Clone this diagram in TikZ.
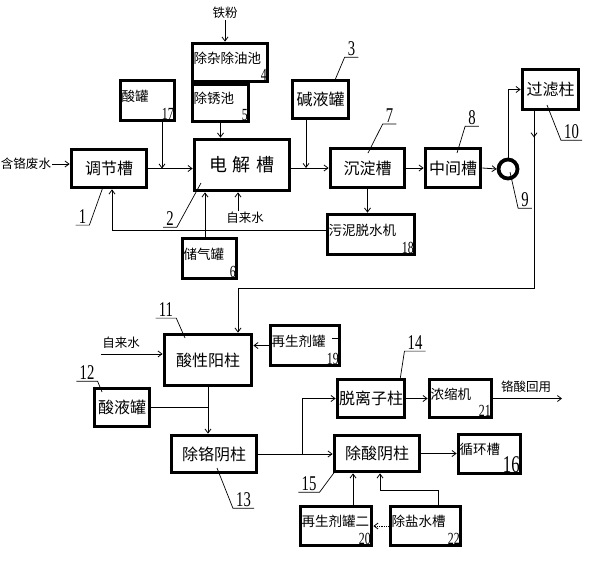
\documentclass[tikz,border=0pt]{standalone}
\usepackage{fontspec}
\setmainfont{Noto Sans CJK SC}
\newfontfamily\numfont{Liberation Serif}[FakeStretch=0.7]
\usetikzlibrary{arrows.meta}

\begin{document}
\begin{tikzpicture}[x=1pt,y=-1pt,
	box/.style={draw, line width=3.8pt, inner sep=1pt, font=\fontsize{16}{16}\selectfont},
	sbox/.style={box, align=left, text depth=10pt, font=\fontsize{13.5}{14}\selectfont},
	no/.style={anchor=south east, inner sep=1pt, xshift=-1.5pt, yshift=1.5pt, font=\numfont\fontsize{17}{17}\selectfont},
	tag/.style={inner xsep=3pt, inner ysep=1pt, font=\numfont\fontsize{21}{21}\selectfont},
	word/.style={inner sep=1pt, font=\fontsize{12.5}{13}\selectfont},
	arr/.style={line width=0.8pt, -{Straight Barb[length=4pt,width=6pt]}},
	lead/.style={line width=0.7pt}]
	\useasboundingbox (0,0) rectangle (593,560);

	% upper line
	\node[word] (tiefen) at (225,13) {铁粉};
	\node[word] (feishui) at (26,164) {含铬废水};
	\node[box, minimum width=75, minimum height=38] (tiaojie) at (109,168.5) {调节槽};
	\node[box, font=\fontsize{18}{18}\selectfont, minimum width=95, minimum height=51] (dianjie) at (242,165) {电\kern6pt 解\kern6pt 槽};
	\node[sbox, text width=52pt, minimum height=40, label={[no]south east:17}] (suanguan) at (147.5,100.5) {酸罐};
	\node[sbox, text width=73pt, minimum height=38, label={[no]south east:4}] (chuza) at (230,62.5) {除杂除油池};
	\node[sbox, text width=54pt, minimum height=37, label={[no]south east:5}] (chuxiu) at (220.5,103) {除锈池};
	\node[box, minimum width=56, minimum height=38] (jianye) at (320.5,99.5) {碱液罐};
	\node[box, minimum width=74, minimum height=39] (chendian) at (367.5,168) {沉淀槽};
	\node[box, minimum width=55, minimum height=39] (zhongjian) at (453,168) {中间槽};
	\node[draw, circle, line width=3.8pt, minimum size=19, inner sep=0] (beng) at (508,169) {};
	\node[box, minimum width=56, minimum height=40] (guolv) at (550.5,89.5) {过滤柱};
	\node[sbox, text width=85pt, minimum height=40, label={[no]south east:18}] (wuni) at (371,234.5) {污泥脱水机};
	\node[sbox, text width=52pt, minimum height=40, label={[no]south east:6}] (chuqi) at (209.5,258.5) {储气罐};
	\node[word] (zilaishui) at (245,218) {自来水};

	\draw[arr] (feishui.east) -- (feishui.east -| tiaojie.west);
	\draw[arr] (tiaojie.east) -- (tiaojie.east -| dianjie.west);
	\coordinate (sg) at ([xshift=14.5pt]suanguan.south);
	\draw[arr] (sg) -- (sg |- tiaojie.east);
	\draw[arr] (tiefen) -- (tiefen |- chuza.north);
	\draw[arr] (chuxiu.south) -- (chuxiu.south |- dianjie.north);
	\coordinate (jy) at ([xshift=-14.5pt]jianye.south);
	\draw[arr] (jy) -- (jy |- chendian.west);
	\draw[arr] (dianjie.east |- chendian.west) -- (chendian.west);
	\draw[arr] (chendian.east) -- (chendian.east -| zhongjian.west);
	\draw[arr] (zhongjian.east) -- (beng.west);
	\draw[arr] (beng.north) |- (guolv.west);
	\draw[arr] (chendian.south) -- (chendian.south |- wuni.north);
	\draw[arr] ([yshift=4.5pt]wuni.west) -| ([xshift=3pt]tiaojie.south);
	\coordinate (cq) at ([xshift=-4.5pt]chuqi.north);
	\draw[arr] (cq) -- (cq |- dianjie.south);
	\coordinate (zl) at ([xshift=-7pt]zilaishui.north);
	\draw[arr] (zl) -- (zl |- dianjie.south);

	% lower line
	\node[box, minimum width=87, minimum height=51] (suanxing) at (208,360) {酸性阳柱};
	\node[word] (zilaishui2) at (121,343) {自来水};
	\node[sbox, text width=67pt, minimum height=40, label={[no]south east:19}] (zaisheng) at (305,345.5) {再生剂罐};
	\node[box, minimum width=55, minimum height=38] (suanye) at (122,407.5) {酸液罐};
	\node[box, minimum width=85, minimum height=37] (chuge) at (214,454) {除铬阴柱};
	\node[box, minimum width=85, minimum height=36] (chusuan) at (377,453.5) {除酸阴柱};
	\node[box, minimum width=67, minimum height=38] (tuolizi) at (371,398.5) {脱离子柱};
	\node[sbox, text width=60pt, minimum height=38, label={[no]south east:21}] (nongsuo) at (460.5,398.5) {浓缩机};
	\node[word] (huiyong) at (526,387) {铬酸回用};
	\node[sbox, text width=60pt, minimum height=39, label={[no, font=\numfont\fontsize{24}{24}\selectfont]south east:16}] (xunhuan) at (489.5,454) {循环槽};
	\node[sbox, text width=69pt, minimum height=39, label={[no]south east:20}] (zaisheng2) at (336,526) {再生剂罐二};
	\node[sbox, text width=68pt, minimum height=39, label={[no]south east:22}] (chuyan) at (425.5,526) {除盐水槽};

	\coordinate (zhuan) at (534,288);
	\coordinate (jin) at ([xshift=30pt]suanxing.north);
	\draw[arr] ([xshift=-16.5pt]guolv.south) -- ++(0,26);
	\draw[arr] ([xshift=-16.5pt]guolv.south) |- (jin |- zhuan) -- (jin);
	\draw[arr] ([yshift=-4pt]zilaishui2.south west) -- ([yshift=-4pt]zilaishui2.south west -| suanxing.west);
	\draw[arr] (zaisheng.west) -- (zaisheng.west -| suanxing.east);
	\draw[line width=0.8pt] ([xshift=-9pt,yshift=7.5pt]zaisheng.east) -- ([yshift=7.5pt]zaisheng.east);
	\draw[arr] (suanxing.south) -- (suanxing.south |- chuge.north);
	\draw[line width=0.8pt] (suanye.east) -- (suanye.east -| suanxing.south);
	\draw[arr] (chuge.east) -- (chuge.east -| chusuan.west);
	\coordinate (fen) at (302,454);
	\draw[arr] (fen) |- (tuolizi.west);
	\draw[arr] (tuolizi.east) -- (tuolizi.east -| nongsuo.west);
	\coordinate (chu) at (562,398.5);
	\draw[arr] (nongsuo.east) -- (chu);
	\draw[arr] (chusuan.east) -- (chusuan.east -| xunhuan.west);
	\coordinate (z2) at ([xshift=17pt]zaisheng2.north);
	\draw[arr] (z2) -- (z2 |- chusuan.south);
	\coordinate (cy) at ([xshift=12.5pt]chuyan.north);
	\coordinate (cs) at ([xshift=3pt]chusuan.south);
	\coordinate (knee) at (400,490);
	\draw[arr] (cy) |- (knee) -| (cs);
	\draw[arr, densely dotted] (chuyan.west) -- (zaisheng2.east);

	% part numbers
	\node[tag] (n1) at (82.5,217) {1};
	\draw[lead] (n1.south west) -- (n1.south east) -- (103,187);
	\node[tag] (n2) at (170,219) {2};
	\draw[lead] (n2.south west) -- (n2.south east) -- (201,183);
	\node[tag] (n3) at (351.5,49) {3};
	\draw[lead] (n3.south east) -- (n3.south west) -- (335,80);
	\node[tag] (n7) at (389.5,116) {7};
	\draw[lead] (n7.south east) -- (n7.south west) -- (368,153);
	\node[tag] (n8) at (472,118) {8};
	\draw[lead] (n8.south east) -- (n8.south west) -- (457,153);
	\node[tag] (n9) at (525,200) {9};
	\draw[lead] (n9.south east) -- (n9.south west) -- (510,172);
	\node[tag] (n10) at (571.5,132) {10};
	\draw[lead] (n10.south east) -- (n10.south west) -- (547,105);
	\node[tag] (n11) at (166,310) {11};
	\draw[lead] (n11.south west) -- (n11.south east) -- (185,338);
	\node[tag] (n12) at (87,373) {12};
	\draw[lead] (n12.south west) -- (n12.south east) -- (102,392);
	\node[tag] (n13) at (243.5,500) {13};
	\draw[lead] (n13.south east) -- (n13.south west) -- (217,468);
	\node[tag] (n14) at (415,343) {14};
	\draw[lead] (n14.south east) -- (n14.south west) -- (400,380);
	\node[tag] (n15) at (309,484) {15};
	\draw[lead] (n15.south west) -- (n15.south east) -- (336,470);
\end{tikzpicture}
\end{document}
